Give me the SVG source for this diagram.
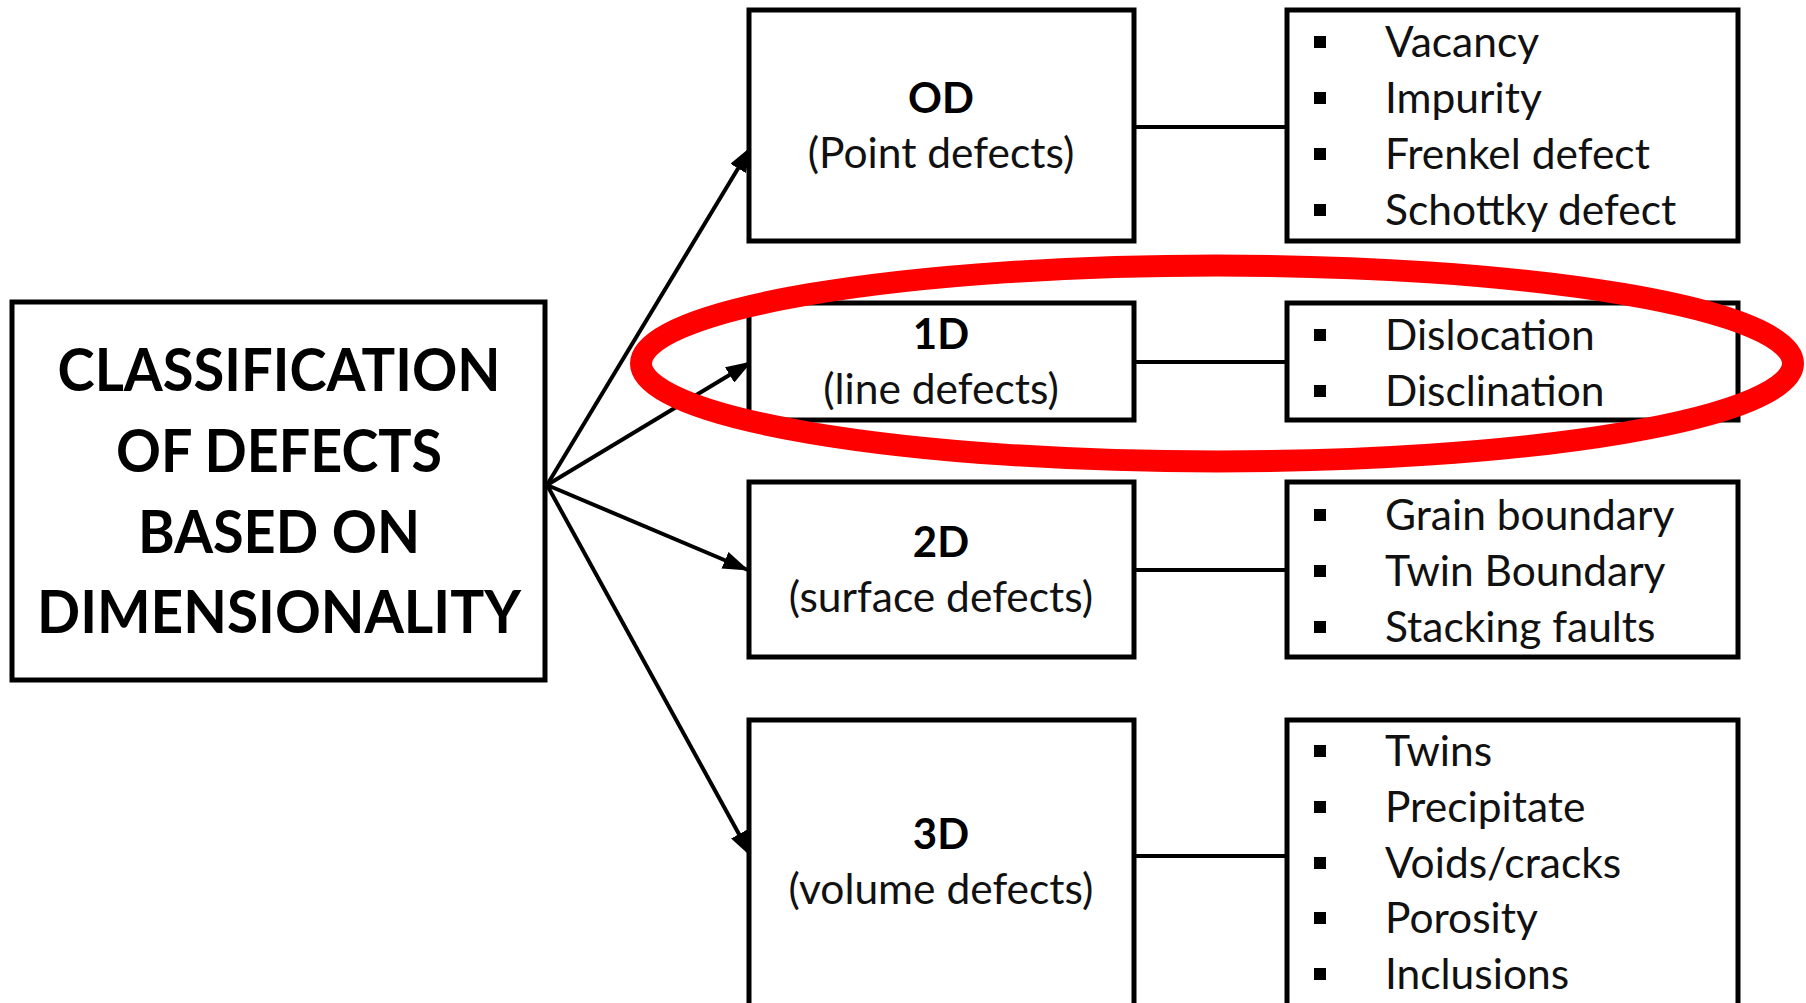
<svg xmlns="http://www.w3.org/2000/svg" width="1806" height="1003" viewBox="0 0 1806 1003">
  <style>
    .box { fill: #ffffff; stroke: #000000; stroke-width: 5; }
    .title { font-family: Lato, "Open Sans", "Liberation Sans", sans-serif; font-weight: 700; font-size: 59px; fill: #000000; text-anchor: middle; }
    .head { font-family: Lato, "Open Sans", "Liberation Sans", sans-serif; font-weight: 700; font-size: 42px; fill: #000000; text-anchor: middle; }
    .sub { font-family: Lato, "Open Sans", "Liberation Sans", sans-serif; font-size: 42.5px; fill: #111111; text-anchor: middle; }
    .item { font-family: Lato, "Open Sans", "Liberation Sans", sans-serif; font-size: 42.5px; fill: #111111; }
    .bullet { fill: #000000; }
    .link { stroke: #000000; stroke-width: 4; fill: none; }
    .arrow { stroke: #000000; stroke-width: 4; fill: none; marker-end: url(#head); }
    .mark { fill: none; stroke: #ff0000; stroke-width: 22; }
  </style>
  <defs>
    <marker id="head" markerUnits="userSpaceOnUse" markerWidth="26" markerHeight="18" refX="25" refY="9" orient="auto">
      <path d="M0,0 L26,9 L0,18 z" fill="#000000"/>
    </marker>
  </defs>

  <rect width="1806" height="1003" fill="#ffffff"/>

  <!-- connectors -->
  <g id="connectors">
    <line class="arrow" x1="547" y1="485" x2="751" y2="147"/>
    <line class="arrow" x1="547" y1="485" x2="751" y2="362"/>
    <line class="arrow" x1="547" y1="485" x2="748" y2="570"/>
    <line class="arrow" x1="547" y1="485" x2="751" y2="856"/>
    <line class="link" x1="1134" y1="127" x2="1287" y2="127"/>
    <line class="link" x1="1134" y1="362" x2="1287" y2="362"/>
    <line class="link" x1="1134" y1="570" x2="1287" y2="570"/>
    <line class="link" x1="1134" y1="856" x2="1287" y2="856"/>
  </g>

  <!-- root node -->
  <g id="root">
    <rect class="box" x="12" y="302" width="533" height="378"/>
    <text class="title" x="279" y="391" textLength="443" lengthAdjust="spacingAndGlyphs">CLASSIFICATION</text>
    <text class="title" x="279" y="472" textLength="326" lengthAdjust="spacingAndGlyphs">OF DEFECTS</text>
    <text class="title" x="279" y="553" textLength="282" lengthAdjust="spacingAndGlyphs">BASED ON</text>
    <text class="title" x="279" y="633" textLength="484" lengthAdjust="spacingAndGlyphs">DIMENSIONALITY</text>
  </g>

  <!-- 0D -->
  <g id="node-0d">
    <rect class="box" x="749" y="10" width="385" height="231"/>
    <text class="head" x="941" y="113">OD</text>
    <text class="sub" x="941" y="168">(Point defects)</text>
  </g>
  <g id="list-0d">
    <rect class="box" x="1287" y="10" width="451" height="231"/>
    <rect class="bullet" x="1314" y="36" width="12" height="12"/>
    <rect class="bullet" x="1314" y="92" width="12" height="12"/>
    <rect class="bullet" x="1314" y="148" width="12" height="12"/>
    <rect class="bullet" x="1314" y="204" width="12" height="12"/>
    <text class="item" x="1385" y="57">Vacancy</text>
    <text class="item" x="1385" y="113">Impurity</text>
    <text class="item" x="1385" y="169">Frenkel defect</text>
    <text class="item" x="1385" y="225">Schottky defect</text>
  </g>

  <!-- 1D -->
  <g id="node-1d">
    <rect class="box" x="749" y="303" width="385" height="117"/>
    <text class="head" x="941" y="349">1D</text>
    <text class="sub" x="941" y="404">(line defects)</text>
  </g>
  <g id="list-1d">
    <rect class="box" x="1287" y="303" width="451" height="117"/>
    <rect class="bullet" x="1314" y="329" width="12" height="12"/>
    <rect class="bullet" x="1314" y="385" width="12" height="12"/>
    <text class="item" x="1385" y="350">Dislocation</text>
    <text class="item" x="1385" y="406">Disclination</text>
  </g>

  <!-- 2D -->
  <g id="node-2d">
    <rect class="box" x="749" y="482" width="385" height="175"/>
    <text class="head" x="941" y="557">2D</text>
    <text class="sub" x="941" y="612">(surface defects)</text>
  </g>
  <g id="list-2d">
    <rect class="box" x="1287" y="482" width="451" height="175"/>
    <rect class="bullet" x="1314" y="509" width="12" height="12"/>
    <rect class="bullet" x="1314" y="565" width="12" height="12"/>
    <rect class="bullet" x="1314" y="621" width="12" height="12"/>
    <text class="item" x="1385" y="530">Grain boundary</text>
    <text class="item" x="1385" y="586">Twin Boundary</text>
    <text class="item" x="1385" y="642">Stacking faults</text>
  </g>

  <!-- 3D -->
  <g id="node-3d">
    <rect class="box" x="749" y="720" width="385" height="300"/>
    <text class="head" x="941" y="849">3D</text>
    <text class="sub" x="941" y="904">(volume defects)</text>
  </g>
  <g id="list-3d">
    <rect class="box" x="1287" y="720" width="451" height="300"/>
    <rect class="bullet" x="1314" y="745" width="12" height="12"/>
    <rect class="bullet" x="1314" y="801" width="12" height="12"/>
    <rect class="bullet" x="1314" y="857" width="12" height="12"/>
    <rect class="bullet" x="1314" y="912" width="12" height="12"/>
    <rect class="bullet" x="1314" y="968" width="12" height="12"/>
    <text class="item" x="1385" y="766">Twins</text>
    <text class="item" x="1385" y="822">Precipitate</text>
    <text class="item" x="1385" y="878">Voids/cracks</text>
    <text class="item" x="1385" y="933">Porosity</text>
    <text class="item" x="1385" y="989">Inclusions</text>
  </g>

  <!-- red highlight round the 1D row -->
  <ellipse class="mark" cx="1217" cy="363.5" rx="576" ry="98"/>
</svg>
